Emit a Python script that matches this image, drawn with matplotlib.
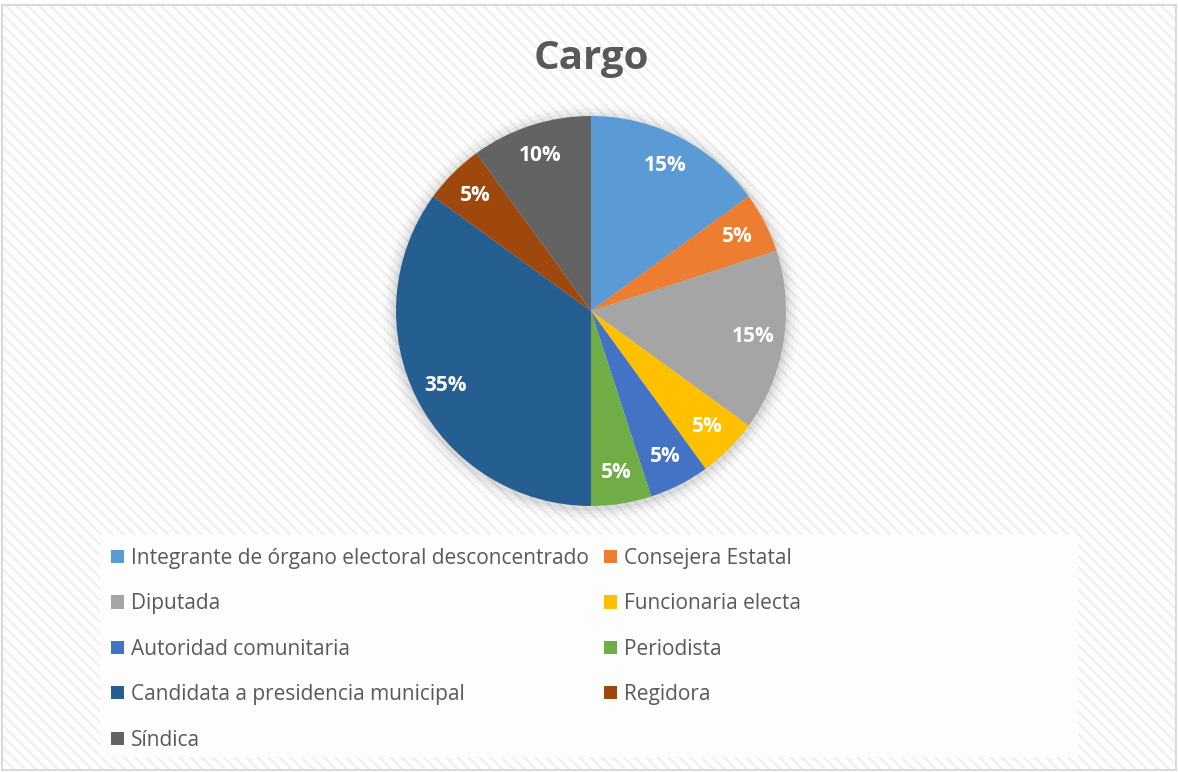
import matplotlib.pyplot as plt
from matplotlib.patches import Patch, Rectangle

# ── Data ──────────────────────────────────────────────────────────────────────
CATEGORIES = [
    "Integrante de órgano electoral desconcentrado",
    "Consejera Estatal",
    "Diputada",
    "Funcionaria electa",
    "Autoridad comunitaria",
    "Periodista",
    "Candidata a presidencia municipal",
    "Regidora",
    "Síndica",
]
SHARES = [15, 5, 15, 5, 5, 5, 35, 5, 10]
COLORS = ["#5B9BD5", "#ED7D31", "#A5A5A5", "#FFC000", "#4472C4",
          "#70AD47", "#255E91", "#9E480E", "#636363"]
TITLE = "Cargo"

TEXT_GREY = "#595959"
plt.rcParams["font.family"] = ["Open Sans", "DejaVu Sans"]
plt.rcParams["hatch.color"] = "#efefef"
plt.rcParams["hatch.linewidth"] = 1.6

fig = plt.figure(figsize=(11.78, 7.72), dpi=100)
fig.patch.set_facecolor("white")

# striped chart-area background + thin border
bg = Rectangle((0.002, 0.002), 0.996, 0.991, transform=fig.transFigure,
               facecolor="white", edgecolor="#efefef", hatch="\\\\\\", lw=0, zorder=0)
fig.patches.append(bg)
border = Rectangle((0.002, 0.002), 0.996, 0.991, transform=fig.transFigure,
                   facecolor="none", edgecolor="#d9d9d9", lw=1.5, zorder=1)
fig.patches.append(border)

# lighter legend panel
legend_bg = Rectangle((100 / 1178, 1 - 757 / 772), 978 / 1178, 222 / 772,
                      transform=fig.transFigure, facecolor="#fdfdfd",
                      edgecolor="none", zorder=1)
fig.patches.append(legend_bg)

# ── Pie ───────────────────────────────────────────────────────────────────────
ax = fig.add_axes([396 / 1178, 1 - 506 / 772, 390 / 1178, 390 / 772])
ax.set_zorder(3)
ax.set_facecolor("none")

# soft shadow under the pie
for r, a in [(1.07, 0.02), (1.05, 0.03), (1.03, 0.04), (1.015, 0.05)]:
    ax.add_patch(plt.Circle((0.0, -0.01), r, color="#000000", alpha=a, lw=0,
                            zorder=0, clip_on=False))

wedges, texts, autotexts = ax.pie(
    SHARES,
    colors=COLORS,
    startangle=90,
    counterclock=False,
    autopct=lambda p: f"{p:.0f}%",
    pctdistance=0.84,
    wedgeprops=dict(linewidth=0),
    textprops=dict(color="white", fontsize=15, fontweight="bold"),
)
for w in wedges:
    w.set_zorder(2)
for t in autotexts:
    t.set_zorder(3)
ax.set_xlim(-1.0, 1.0)
ax.set_ylim(-1.0, 1.0)
ax.set_aspect("equal")
ax.axis("off")

fig.text(591 / 1178, 1 - 58 / 772, TITLE, ha="center", va="center",
         fontsize=29, fontweight="bold", color=TEXT_GREY)

# ── Legend (row-wise order, two columns) ─────────────────────────────────────
handles = [Patch(facecolor=c, edgecolor="none") for c in COLORS]
order = [0, 2, 4, 6, 8, 1, 3, 5, 7]
leg = fig.legend(
    [handles[i] for i in order],
    [CATEGORIES[i] for i in order],
    ncol=2,
    loc="upper left",
    bbox_to_anchor=(111 / 1178, 1 - 548 / 772),
    frameon=False,
    fontsize=15,
    handlelength=0.6,
    handleheight=0.6,
    handletextpad=0.35,
    columnspacing=0.75,
    labelspacing=1.17,
    borderaxespad=0,
    borderpad=0,
)
leg.set_zorder(4)
for t in leg.get_texts():
    t.set_color(TEXT_GREY)

fig.savefig("out.png", dpi=100)
